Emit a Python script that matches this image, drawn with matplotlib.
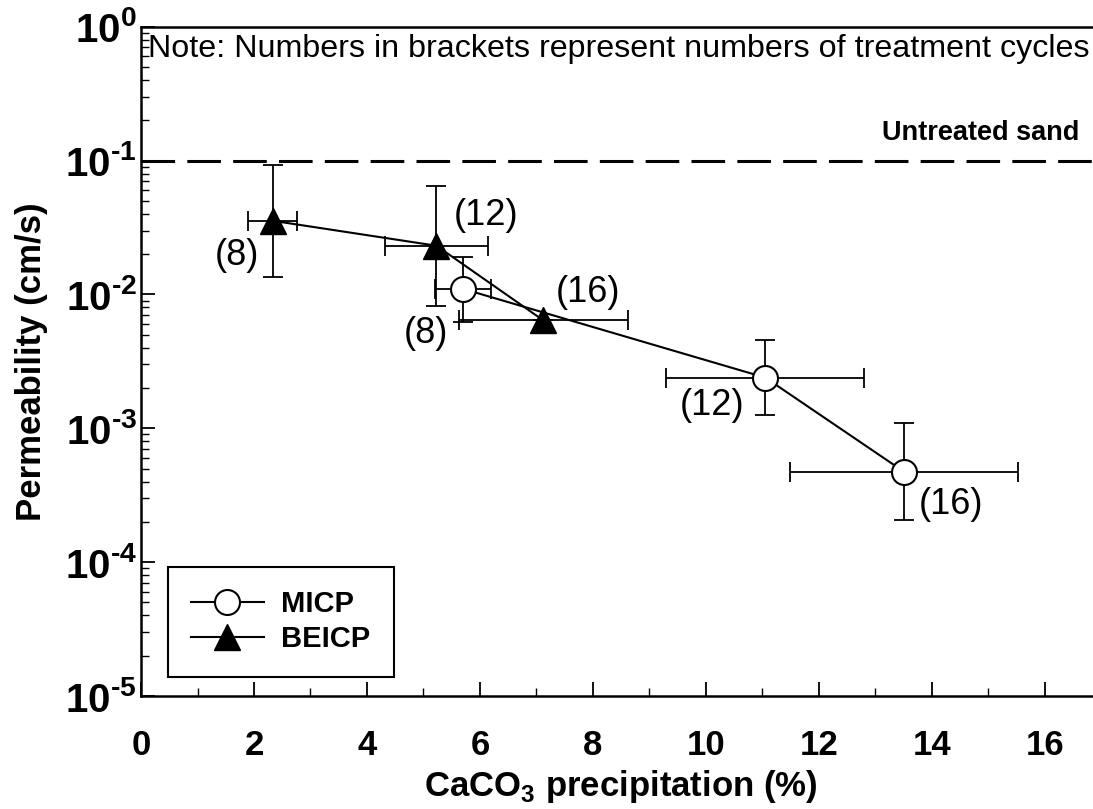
import numpy as np
import matplotlib
matplotlib.use("Agg")
import matplotlib.pyplot as plt
from matplotlib.ticker import FixedLocator, FixedFormatter, LogLocator, MultipleLocator, NullFormatter

plt.rcParams['font.family'] = ['Liberation Sans', 'DejaVu Sans']
plt.rcParams['mathtext.fontset'] = 'custom'
plt.rcParams['mathtext.rm'] = 'Liberation Sans:bold'
plt.rcParams['mathtext.bf'] = 'Liberation Sans:bold'

# MICP 数据
micp_x = [5.70, 11.05, 13.50]
micp_xerr = [0.50, 1.75, 2.02]
micp_y = [0.0110, 0.00239, 0.000475]
micp_ylow = [0.00621, 0.00126, 0.000206]
micp_yhigh = [0.0191, 0.00459, 0.00109]
micp_cycles = ['(8)', '(12)', '(16)']

# BEICP 数据
beicp_x = [2.33, 5.23, 7.12]
beicp_xerr = [0.43, 0.91, 1.50]
beicp_y = [0.0355, 0.0231, 0.0064]
beicp_ylow = [0.0136, 0.00826, 0.0064]
beicp_yhigh = [0.0926, 0.0646, 0.0064]
beicp_cycles = ['(8)', '(12)', '(16)']

untreated_k = 0.1

x_ticks = [0, 2, 4, 6, 8, 10, 12, 14, 16]
y_ticks = [1e-5, 1e-4, 1e-3, 1e-2, 1e-1, 1e0]
y_ticklabels = [r'$\mathbf{10^{‐5}}$', r'$\mathbf{10^{‐4}}$', r'$\mathbf{10^{‐3}}$',
                r'$\mathbf{10^{‐2}}$', r'$\mathbf{10^{‐1}}$', r'$\mathbf{10^{0}}$']

fig = plt.figure(figsize=(10.93, 8.09), dpi=100)
ax = fig.add_axes([141 / 1093, 113 / 809, 960.5 / 1093, 669.3 / 809])

def yerr_of(y, lo, hi):
    return [np.array(y) - np.array(lo), np.array(hi) - np.array(y)]

# 误差线
ax.errorbar(micp_x, micp_y, xerr=micp_xerr, yerr=yerr_of(micp_y, micp_ylow, micp_yhigh),
            fmt='none', ecolor='black', elinewidth=1.3, capsize=7, capthick=1.3, zorder=2)
ax.errorbar(beicp_x, beicp_y, xerr=beicp_xerr, yerr=yerr_of(beicp_y, beicp_ylow, beicp_yhigh),
            fmt='none', ecolor='black', elinewidth=1.3, capsize=7, capthick=1.3, zorder=2)

# 连线和标记
ax.plot(micp_x, micp_y, '-o', color='black', lw=1.5, ms=18, mfc='white', mec='black',
        mew=1.5, label='MICP', zorder=3)
ax.plot(beicp_x, beicp_y, '-^', color='black', lw=1.5, ms=19, mfc='black', mec='black',
        label='BEICP', zorder=3)

# 未处理砂土
ax.axhline(untreated_k, color='black', lw=2.2, dashes=(11, 4), zorder=1)
ax.text(16.6, 0.128, 'Untreated sand', ha='right', va='bottom', fontsize=19.5, fontweight='bold')

ax.text(0.13, 0.68, 'Note: Numbers in brackets represent numbers of treatment cycles',
        ha='left', va='center', fontsize=23.2)

# 循环次数标注
micp_off = [(-27, -32), (-38, -20), (34, -24)]
beicp_off = [(-26, -25), (36, 22), (32, 20)]
for x, y, s, off in zip(micp_x, micp_y, micp_cycles, micp_off):
    ax.annotate(s, (x, y), xytext=off, textcoords='offset points', ha='center', va='center', fontsize=26)
for x, y, s, off in zip(beicp_x, beicp_y, beicp_cycles, beicp_off):
    ax.annotate(s, (x, y), xytext=off, textcoords='offset points', ha='center', va='center', fontsize=26)

ax.set_yscale('log')
ax.set_xlim(0, 17)
ax.set_ylim(1e-5, 1)

ax.xaxis.set_major_locator(FixedLocator(x_ticks))
ax.xaxis.set_minor_locator(MultipleLocator(1))
ax.yaxis.set_major_locator(FixedLocator(y_ticks))
ax.yaxis.set_major_formatter(FixedFormatter(y_ticklabels))
ax.yaxis.set_minor_locator(LogLocator(base=10, subs=np.arange(2, 10), numticks=20))
ax.yaxis.set_minor_formatter(NullFormatter())

ax.tick_params(which='major', direction='in', length=10, width=1.3, labelsize=25)
ax.tick_params(which='minor', direction='in', length=6, width=1.0)
ax.tick_params(axis='x', which='major', pad=24)
ax.tick_params(axis='y', which='major', pad=3, labelsize=29)
for lab in ax.get_xticklabels():
    lab.set_fontweight('bold')

ax.set_xlabel(r'CaCO$_\mathbf{3}$ precipitation (%)', fontsize=25, fontweight='bold', labelpad=4)
ax.set_ylabel('Permeability (cm/s)', fontsize=25, fontweight='bold', labelpad=12)

for sp in ax.spines.values():
    sp.set_linewidth(1.8)
    sp.set_color('black')
ax.spines['right'].set_visible(False)

leg = ax.legend(loc='lower left', bbox_to_anchor=(0.0278, 0.0288), borderaxespad=0,
                fancybox=False, edgecolor='black', framealpha=1, handlelength=2.5,
                handletextpad=0.6, labelspacing=0.25, borderpad=0.8,
                prop={'weight': 'bold', 'size': 21})
leg.get_frame().set_linewidth(1.5)

fig.savefig('out.png', dpi=100)
